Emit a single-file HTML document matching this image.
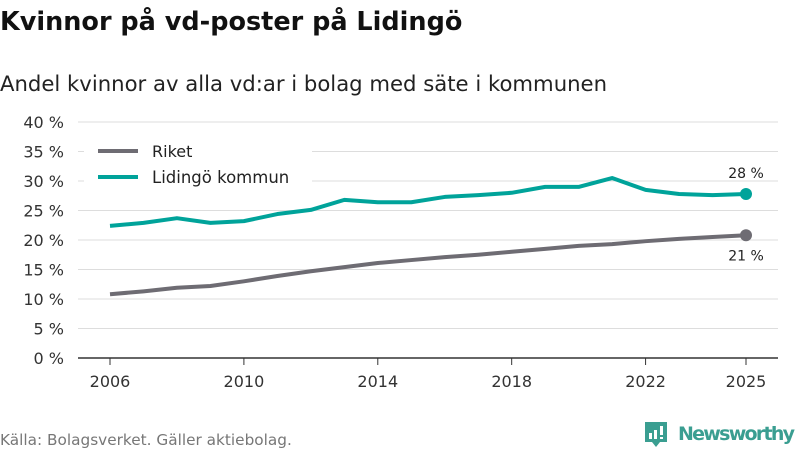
<!DOCTYPE html>
<html><head><meta charset="utf-8"><style>
body{margin:0;background:#fff;font-family:"DejaVu Sans","Liberation Sans",sans-serif;}
svg{display:block}
</style></head><body>
<svg id="c" width="800" height="450" xmlns="http://www.w3.org/2000/svg">
<text x="0" y="30" font-size="25.5" font-weight="bold" fill="#111">Kvinnor på vd-poster på Lidingö</text>
<text x="0" y="91" font-size="21.2" fill="#222">Andel kvinnor av alla vd:ar i bolag med säte i kommunen</text>
<g id="grid"></g><g id="series"></g>
<rect x="84" y="140" width="228" height="54" fill="#fff"/>
<line x1="98" y1="151" x2="138" y2="151" stroke="#6e6c73" stroke-width="4"/>
<text x="152" y="157" font-size="16" fill="#222">Riket</text>
<line x1="98" y1="177" x2="138" y2="177" stroke="#00a39a" stroke-width="4"/>
<text x="152" y="183" font-size="16.5" fill="#222">Lidingö kommun</text>
<text x="0" y="445" font-size="15.3" fill="#777">Källa: Bolagsverket. Gäller aktiebolag.</text>
<g>
<path d="M645 422 h22 v20 h-7 l-4 5 l-4 -5 h-7 z" fill="#3a9e91"/>
<rect x="649" y="433" width="3" height="6" fill="#fff"/><rect x="654" y="430" width="3" height="9" fill="#fff"/><rect x="660" y="426" width="3" height="9" fill="#fff"/><rect x="660" y="437" width="3" height="2" fill="#fff"/>
<text x="678" y="440" font-size="19" font-weight="bold" fill="#3a9e91" textLength="117">Newsworthy</text>
</g>
</svg>
<script>
const years=[2006,2007,2008,2009,2010,2011,2012,2013,2014,2015,2016,2017,2018,2019,2020,2021,2022,2023,2024,2025];
const riket=[10.8,11.3,11.9,12.2,13.0,13.9,14.7,15.4,16.1,16.6,17.1,17.5,18.0,18.5,19.0,19.3,19.8,20.2,20.5,20.8];
const lidingo=[22.4,22.9,23.7,22.9,23.2,24.4,25.1,26.8,26.4,26.4,27.3,27.6,28.0,29.0,29.0,30.5,28.5,27.8,27.6,27.8];
const yTicks=[0,5,10,15,20,25,30,35,40];
const xTicks=[2006,2010,2014,2018,2022,2025];
const NS="http://www.w3.org/2000/svg";
const x=v=>110+(v-2006)*(746-110)/19;
const y=v=>358-v*(358-122)/40;
function mk(t,a,p){const e=document.createElementNS(NS,t);for(const k in a)e.setAttribute(k,a[k]);p.appendChild(e);return e;}
const g=document.getElementById('grid'),s=document.getElementById('series');
yTicks.forEach(v=>{
 const l=mk('line',{x1:78,x2:778,y1:y(v),y2:y(v),stroke:v===0?'#333':'#ddd','stroke-width':v===0?1.5:1},g);
 
 
 const t=mk('text',{x:64,y:y(v)+6,'font-size':16,fill:'#333','text-anchor':'end'},g);t.textContent=v+' %';
 
 
});
xTicks.forEach(v=>{
 const l=mk('line',{x1:x(v),x2:x(v),y1:358,y2:365,stroke:'#333'},g);
 
 
 const t=mk('text',{x:x(v),y:387,'font-size':16,fill:'#333','text-anchor':'middle'},g);t.textContent=v;
 
 
});
function line(data,col,name,labelDy){
 const p=mk('polyline',{points:data.map((v,i)=>x(years[i])+','+y(v)).join(' '),fill:'none',stroke:col,'stroke-width':4,'stroke-linejoin':'round'},s);
 
 
 const n=data.length-1;
 const c=mk('circle',{cx:x(years[n]),cy:y(data[n]),r:6,fill:col},s);
 
 
 const t=mk('text',{x:x(years[n]),y:y(data[n])+labelDy,'font-size':14,fill:'#222','text-anchor':'middle'},s);
 t.textContent=Math.round(data[n])+' %';
 
 
}
line(riket,'#6e6c73','riket',25);
line(lidingo,'#00a39a','lidingo',-16);
</script>
</body></html>
